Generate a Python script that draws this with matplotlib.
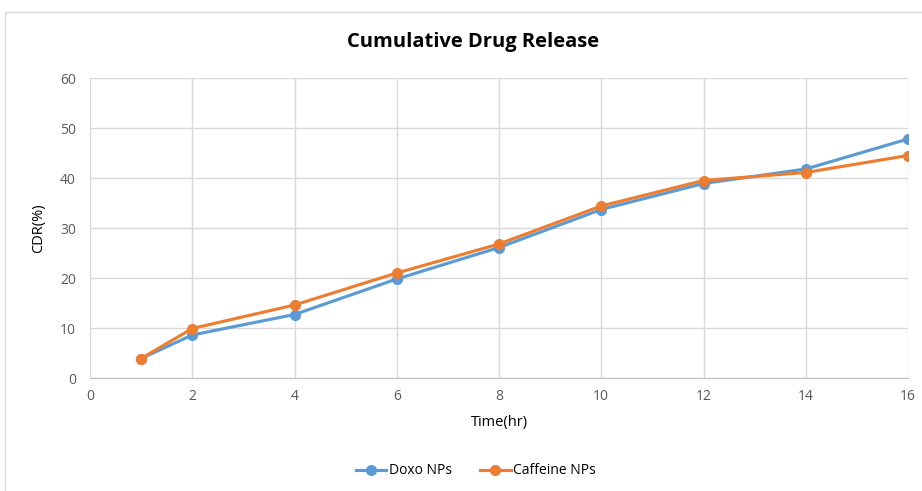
import matplotlib.pyplot as plt
from matplotlib.patches import Rectangle

time_hr = [1, 2, 4, 6, 8, 10, 12, 14, 16]
doxo_cdr = [3.9, 8.6, 12.7, 19.8, 26.1, 33.7, 38.9, 41.8, 47.8]
caffeine_cdr = [3.9, 9.9, 14.6, 21.0, 26.8, 34.4, 39.5, 41.1, 44.5]

plt.rcParams['font.family'] = ['Open Sans', 'DejaVu Sans']

fig = plt.figure(figsize=(9.22, 4.91), dpi=100)
ax = fig.add_axes([90 / 922, 113 / 491, 818 / 922, 300 / 491])

# outer chart frame
fig.patches.append(Rectangle((5 / 922, -0.1), 1.1, (479 / 491) + 0.1,
                             transform=fig.transFigure, fill=False,
                             edgecolor='#d9d9d9', linewidth=1))

ax.plot(time_hr, doxo_cdr, color='#5b9bd5', lw=2.25, marker='o', ms=7,
        label='Doxo NPs', zorder=3)
ax.plot(time_hr, caffeine_cdr, color='#ed7d31', lw=2.25, marker='o', ms=7,
        label='Caffeine NPs', zorder=3)

ax.set_xlim(0, 16)
ax.set_ylim(0, 60)
ax.set_xticks(range(0, 17, 2))
ax.set_yticks(range(0, 61, 10))
ax.grid(True, color='#d9d9d9', lw=1)
ax.set_axisbelow(True)
for s in ['top', 'right', 'left']:
    ax.spines[s].set_visible(False)
ax.spines['bottom'].set_color('#bfbfbf')
ax.tick_params(length=0, colors='#595959', labelsize=10)
ax.tick_params(axis='x', pad=8)
ax.tick_params(axis='y', pad=10)

fig.text(473 / 922, 1 - 42 / 491, 'Cumulative Drug Release', fontsize=14.5,
         fontweight='bold', ha='center', va='center')
ax.set_xlabel('Time(hr)', fontsize=10.5, labelpad=8)
ax.set_ylabel('CDR(%)', fontsize=10.5, labelpad=10)

fig.legend(loc='center', bbox_to_anchor=(476 / 922, 20 / 491), ncol=2,
           frameon=False, fontsize=10, handlelength=2.2, columnspacing=2.0,
           handletextpad=0.2)

fig.savefig('out.png', dpi=100)
